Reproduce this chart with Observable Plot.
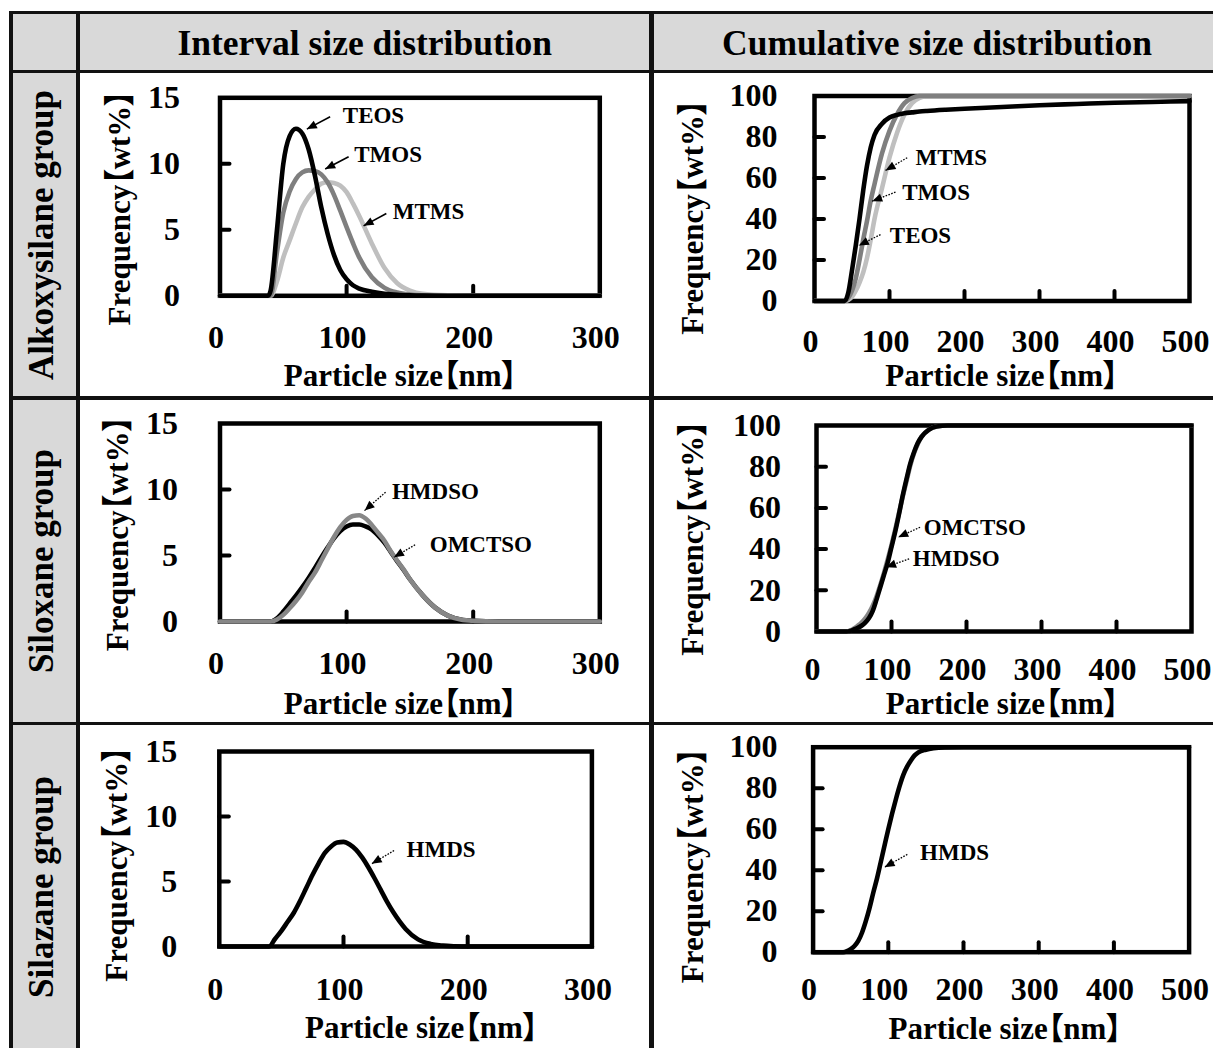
<!DOCTYPE html>
<html><head><meta charset="utf-8">
<script src="https://cdn.jsdelivr.net/npm/d3@7"></script>
<script src="https://cdn.jsdelivr.net/npm/@observablehq/plot@0.6"></script>
<style>
body{margin:0;background:#fff;overflow:hidden;}
#page{position:relative;width:1213px;height:1048px;overflow:hidden;background:#fff;color:#000;
  font-family:"Liberation Serif","Times New Roman","Noto Sans CJK JP",serif;font-weight:bold;font-feature-settings:"palt";}
.cell{position:absolute;background:#d9d9d9;}
.ln{position:absolute;background:#111;}
.hdr{position:absolute;font-size:35.5px;line-height:1;white-space:nowrap;transform:translateX(-50%);}
.rowlab{position:absolute;font-size:35px;line-height:1;white-space:nowrap;transform:translate(-50%,-50%) rotate(-90deg);}
.chart{position:absolute;}
.chart svg{font-family:"Liberation Serif","Times New Roman","Noto Sans CJK JP",serif;font-weight:bold;font-feature-settings:"palt";color:#000;overflow:visible;background:none;}
</style></head>
<body><div id="page"></div>
<script>
// ---------------- table text ----------------
const columnHeaders = ["Interval size distribution", "Cumulative size distribution"];
const rowHeaders = ["Alkoxysilane group", "Siloxane group", "Silazane group"];

// ---------------- axes ----------------
const intervalXTicks = [0, 100, 200, 300];
const intervalYTicks = [0, 5, 10, 15];
const cumulativeXTicks = [0, 100, 200, 300, 400, 500];
const cumulativeYTicks = [0, 20, 40, 60, 80, 100];
const xAxisTitle = "Particle size【nm】";
const yAxisTitle = "Frequency【wt%】";

// ---------------- Alkoxysilane group ----------------
const alkIntSizes = [0,38,40,45,50,55,60,65,70,75,80,85,90,95,100,105,110,120,130,140,150,160,180,200,250,300];
const alkIntTEOS  = [0,0,0.4,5.0,10.0,12.1,12.65,12.3,11.1,9.1,6.7,4.7,3.1,1.95,1.25,0.8,0.55,0.3,0.15,0.07,0.03,0.01,0,0,0,0];
const alkIntTMOS  = [0,0,0,3.3,6.3,7.9,8.85,9.35,9.5,9.45,9.2,8.6,7.65,6.45,5.2,4.0,2.9,1.4,0.6,0.25,0.1,0.04,0,0,0,0];
const alkIntMTMS  = [0,0,0,1.1,2.9,4.2,5.5,6.7,7.5,8.05,8.5,8.6,8.55,8.35,7.85,7.0,6.05,3.95,2.1,0.95,0.4,0.15,0.03,0,0,0];

const alkCumSizes = [0,40,45,50,55,60,65,70,75,80,90,100,110,120,130,140,150,175,200,250,300,350,400,450,500];
const alkCumTEOS  = [0,0,4,15,27,40,54,66,75,81,86.5,89.5,90.8,91.6,92,92.4,92.7,93.3,93.8,94.6,95.5,96.1,96.7,97.1,97.5];
const alkCumTMOS  = [0,0,1.5,5,11,20,30,39,49,57,72,83,91,96.5,99,100,100,100,100,100,100,100,100,100,100];
const alkCumMTMS  = [0,0,0.5,2,5,9,14,21,30,40,55,70,82,91,96.5,99,100,100,100,100,100,100,100,100,100];

// ---------------- Siloxane group ----------------
const silIntSizes  = [0,40,45,50,55,60,65,70,75,80,85,90,95,100,105,110,115,120,125,130,135,140,145,150,160,170,180,190,200,220,300];
const silIntHMDSO  = [0,0,0.15,0.5,1.0,1.55,2.2,3.0,3.7,4.6,5.5,6.4,7.15,7.7,8.0,8.05,7.8,7.3,6.7,6.1,5.3,4.6,3.95,3.2,2.0,1.05,0.45,0.15,0.05,0,0];
const silIntOMCTSO = [0,0,0.25,0.75,1.35,1.95,2.6,3.3,4.05,4.85,5.6,6.3,6.85,7.2,7.35,7.35,7.2,6.95,6.5,5.95,5.25,4.55,3.9,3.2,2.0,1.05,0.45,0.15,0.05,0,0];

const silCumSizes  = [0,40,45,50,55,60,65,70,75,80,85,90,95,100,105,110,115,120,125,130,135,140,150,160,175,200,500];
const silCumHMDSO  = [0,0,0.5,1.5,2.8,4.3,6.3,9,12.5,17,22.5,28.5,35,42,49.5,57.5,65.5,73,80.5,86.5,91,94.5,98,99.5,100,100,100];
const silCumOMCTSO = [0,0,0.3,1,1.8,2.8,4.3,6.5,10,15.5,21.5,27.5,33.5,41,48.5,57,66,74,81.5,87,91.5,94.5,98,99.5,100,100,100];

// ---------------- Silazane group ----------------
const szIntSizes = [0,40,45,50,55,60,65,70,75,80,85,90,95,100,105,110,115,120,125,130,135,140,145,150,160,170,180,190,200,300];
const szIntHMDS  = [0,0,0.6,1.2,1.9,2.6,3.5,4.5,5.5,6.4,7.2,7.7,8.0,8.05,7.85,7.45,6.85,6.1,5.25,4.35,3.45,2.65,1.95,1.35,0.55,0.2,0.07,0.02,0,0];

const szCumSizes = [0,40,45,50,55,60,65,70,75,80,85,90,95,100,105,110,115,120,125,130,135,140,150,160,175,200,500];
const szCumHMDS  = [0,0,0.5,1.5,3,5.5,9.5,15,21.5,29,36,44,52,60,67.5,74.5,81,86.5,90.5,93.5,96,97.5,98.8,99.5,99.9,100,100];

// ---------------- annotations (data units) ----------------
const alkIntNotes = ["TEOS","TMOS","MTMS"];
const alkIntNoteX = [97, 106, 136.5];
const alkIntNoteY = [13.66, 10.73, 6.36];
const alkIntFrom  = [[87,13.56],[101.6,10.53],[131.4,6.23]];
const alkIntTo    = [[68.6,12.63],[83.1,9.6],[113.4,5.3]];

const alkCumNotes = ["MTMS","TMOS","TEOS"];
const alkCumNoteX = [134.7, 117, 100.4];
const alkCumNoteY = [70.1, 53.1, 32.1];
const alkCumFrom  = [[123.6,69.9],[108,53.1],[88,32.4]];
const alkCumTo    = [[94.7,63.7],[76.9,48.7],[59.1,27.1]];

const silIntNotes = ["HMDSO","OMCTSO"];
const silIntNoteX = [135.8, 165.7];
const silIntNoteY = [9.86, 5.82];
const silIntFrom  = [[130.8,9.8],[154.1,5.81]];
const silIntTo    = [[114.2,8.4],[137.4,4.87]];

const silCumNotes = ["OMCTSO","HMDSO"];
const silCumNoteX = [143, 128.4];
const silCumNoteY = [50.6, 35.3];
const silCumFrom  = [[138.1,50.6],[123.5,35.3]];
const silCumTo    = [[108.9,45.8],[92.8,31.2]];

const szIntNotes = ["HMDS"];
const szIntNoteX = [150.8];
const szIntNoteY = [7.45];
const szIntFrom  = [[140.7,7.38]];
const szIntTo    = [[122.7,6.36]];

const szCumNotes = ["HMDS"];
const szCumNoteX = [142.3];
const szCumNoteY = [48.4];
const szCumFrom  = [[125.3,47.7]];
const szCumTo    = [[95.1,41.5]];

// ---------------- table drawing ----------------
const page = document.getElementById("page");
function box(cls, l, t, w, h, txt) {
  const d = document.createElement("div");
  d.className = cls;
  d.style.left = l + "px"; d.style.top = t + "px";
  if (w != null) d.style.width = w + "px";
  if (h != null) d.style.height = h + "px";
  if (txt != null) d.textContent = txt;
  page.appendChild(d);
  return d;
}
// gray cells
box("cell", 11, 12, 1215, 60);
box("cell", 11, 72, 67, 980);
// lines
const LW = 3.5;
box("ln", 9, 10.5, 1215, 3);                 // top
box("ln", 9, 71.7 - LW/2, 1215, LW);         // header bottom
box("ln", 9, 398 - LW/2, 1215, LW);          // row 1 bottom
box("ln", 9, 723.5 - LW/2, 1215, LW);        // row 2 bottom
box("ln", 11 - 1.6, 10.5, 3.2, 1040);        // left
box("ln", 78 - 2.2, 10.5, 4.4, 1040);        // label column
box("ln", 651.5 - 2.2, 10.5, 4.4, 1040);     // column divider

// headers
box("hdr", 364.75, 56 - 0.8375 * 35.5, null, null, columnHeaders[0]);
box("hdr", 937, 56 - 0.8375 * 35.5, null, null, columnHeaders[1]);
const rowCenters = [234.5, 561, 887];
rowHeaders.forEach((t, i) => box("rowlab", 41, rowCenters[i], null, null, t));

// ---------------- charts ----------------
const tickShape = {draw(c, l) { c.moveTo(0, 0); c.lineTo(0, -l); }};
const headShape = {draw(c, l) { c.moveTo(0, 0); c.lineTo(-4.2, l); c.lineTo(4.2, l); c.closePath(); }};

function makeChart(cfg) {
  const [fx0, fx1, fy0, fy1] = cfg.frame;
  const b = cfg.box;
  const marginLeft = fx0 - b.left, marginRight = b.left + b.w - fx1;
  const marginTop = fy0 - b.top, marginBottom = b.top + b.h - fy1;
  const kx = (fx1 - fx0) / (cfg.xDomain[1] - cfg.xDomain[0]);
  const ky = (fy1 - fy0) / (cfg.yDomain[1] - cfg.yDomain[0]);

  const innerX = cfg.xTicks.filter(v => v > cfg.xDomain[0] && v < cfg.xDomain[1]).map(v => ({x: v, y: cfg.yDomain[0]}));
  const innerY = cfg.yTicks.filter(v => v > cfg.yDomain[0] && v < cfg.yDomain[1]).map(v => ({x: cfg.xDomain[0], y: v}));

  const notes = cfg.notes.map((t, i) => ({t, x: cfg.noteX[i], y: cfg.noteY[i]}));
  const arrows = cfg.from.map((f, i) => ({x1: f[0], y1: f[1], x2: cfg.to[i][0], y2: cfg.to[i][1]}));
  const angle = d => {
    const dxs = (d.x2 - d.x1) * kx, dys = -(d.y2 - d.y1) * ky;
    return Math.atan2(dxs, -dys) * 180 / Math.PI;
  };

  const marks = [
    Plot.frame({stroke: "#000", strokeWidth: 4.5}),
    Plot.vector(innerX, {x: "x", y: "y", rotate: 0, length: 10, anchor: "start", shape: tickShape, stroke: "#000", strokeWidth: 4}),
    Plot.vector(innerY, {x: "x", y: "y", rotate: 90, length: 9.5, anchor: "start", shape: tickShape, stroke: "#000", strokeWidth: 4}),
    Plot.axisX(cfg.xTicks, {anchor: "bottom", tickSize: 0, tickPadding: cfg.xTickPad, fontSize: 32, dx: -4, label: null, tickFormat: d => String(d)}),
    Plot.axisY(cfg.yTicks, {anchor: "left", tickSize: 0, tickPadding: cfg.yTickPad, fontSize: 32, label: null, tickFormat: d => String(d)}),
    ...cfg.series.map(s => Plot.line(cfg.sizes.map((x, i) => ({x, y: s.values[i]})),
      {x: "x", y: "y", stroke: s.color, strokeWidth: 4.6, curve: "monotone-x", strokeLinejoin: "round"})),
    Plot.link(arrows, {x1: "x1", y1: "y1", x2: "x2", y2: "y2", stroke: "#000", strokeWidth: cfg.dotted ? 1.3 : 1.6,
      strokeDasharray: cfg.dotted ? "1.6,1.4" : null}),
    Plot.vector(arrows, {x: "x2", y: "y2", rotate: angle, length: 10, anchor: "start", shape: headShape, fill: "#000", stroke: "none"}),
    Plot.text(notes, {x: "x", y: "y", text: "t", fontSize: 23, textAnchor: "start", lineAnchor: "middle", fill: "#000"}),
    Plot.text([yAxisTitle], {text: d => d, frameAnchor: "left", textAnchor: "middle", rotate: -90, dx: cfg.yLab[0], dy: cfg.yLab[1], fontSize: 31, lineAnchor: "middle", fill: "#000"}),
    Plot.text([xAxisTitle], {text: d => d, frameAnchor: "bottom", textAnchor: "middle", dx: cfg.xLab[0], dy: cfg.xLab[1], fontSize: 31, lineAnchor: "middle", fill: "#000"})
  ];

  const svg = Plot.plot({
    width: b.w, height: b.h, marginLeft, marginRight, marginTop, marginBottom,
    x: {domain: cfg.xDomain, label: null},
    y: {domain: cfg.yDomain, label: null},
    marks
  });
  const holder = document.createElement("div");
  holder.className = "chart";
  holder.style.left = b.left + "px"; holder.style.top = b.top + "px";
  holder.appendChild(svg);
  page.appendChild(holder);
}

const BLACK = "#000", DARK = "#7f7f7f", LIGHT = "#bfbfbf", MID = "#878787";

makeChart({
  box: {left: 80, top: 74, w: 570, h: 322}, frame: [219.5, 599.3, 97.3, 295.3],
  xDomain: [0, 300], yDomain: [0, 15], xTicks: intervalXTicks, yTicks: intervalYTicks,
  xTickPad: 29, yTickPad: 40, yLab: [-99.5, 11], xLab: [-9.4, 80.7],
  sizes: alkIntSizes,
  series: [{values: alkIntMTMS, color: LIGHT}, {values: alkIntTMOS, color: DARK}, {values: alkIntTEOS, color: BLACK}],
  notes: alkIntNotes, noteX: alkIntNoteX, noteY: alkIntNoteY, from: alkIntFrom, to: alkIntTo, dotted: false
});
makeChart({
  box: {left: 654, top: 74, w: 559, h: 322}, frame: [814, 1189, 95.5, 300.5],
  xDomain: [0, 500], yDomain: [0, 100], xTicks: cumulativeXTicks, yTicks: cumulativeYTicks,
  xTickPad: 28, yTickPad: 37, yLab: [-121, 18.7], xLab: [0, 75.5],
  sizes: alkCumSizes,
  series: [{values: alkCumMTMS, color: LIGHT}, {values: alkCumTMOS, color: DARK}, {values: alkCumTEOS, color: BLACK}],
  notes: alkCumNotes, noteX: alkCumNoteX, noteY: alkCumNoteY, from: alkCumFrom, to: alkCumTo, dotted: true
});
makeChart({
  box: {left: 80, top: 400, w: 570, h: 322}, frame: [219.5, 599.3, 423, 621],
  xDomain: [0, 300], yDomain: [0, 15], xTicks: intervalXTicks, yTicks: intervalYTicks,
  xTickPad: 30, yTickPad: 42, yLab: [-102, 11], xLab: [-9.4, 83],
  sizes: silIntSizes,
  series: [{values: silIntOMCTSO, color: BLACK}, {values: silIntHMDSO, color: MID}],
  notes: silIntNotes, noteX: silIntNoteX, noteY: silIntNoteY, from: silIntFrom, to: silIntTo, dotted: true
});
makeChart({
  box: {left: 654, top: 400, w: 559, h: 322}, frame: [816, 1191, 425, 631],
  xDomain: [0, 500], yDomain: [0, 100], xTicks: cumulativeXTicks, yTicks: cumulativeYTicks,
  xTickPad: 26, yTickPad: 35.5, yLab: [-123, 9.5], xLab: [-1.5, 73],
  sizes: silCumSizes,
  series: [{values: silCumHMDSO, color: MID}, {values: silCumOMCTSO, color: BLACK}],
  notes: silCumNotes, noteX: silCumNoteX, noteY: silCumNoteY, from: silCumFrom, to: silCumTo, dotted: true
});
makeChart({
  box: {left: 80, top: 726, w: 570, h: 322}, frame: [218.8, 591.4, 751, 946],
  xDomain: [0, 300], yDomain: [0, 15], xTicks: intervalXTicks, yTicks: intervalYTicks,
  xTickPad: 31, yTickPad: 42, yLab: [-102, 15], xLab: [16, 81.5],
  sizes: szIntSizes,
  series: [{values: szIntHMDS, color: BLACK}],
  notes: szIntNotes, noteX: szIntNoteX, noteY: szIntNoteY, from: szIntFrom, to: szIntTo, dotted: true
});
makeChart({
  box: {left: 654, top: 726, w: 559, h: 322}, frame: [812.6, 1188.6, 746.7, 951.7],
  xDomain: [0, 500], yDomain: [0, 100], xTicks: cumulativeXTicks, yTicks: cumulativeYTicks,
  xTickPad: 25.5, yTickPad: 35.5, yLab: [-119.6, 15.8], xLab: [4, 77.3],
  sizes: szCumSizes,
  series: [{values: szCumHMDS, color: BLACK}],
  notes: szCumNotes, noteX: szCumNoteX, noteY: szCumNoteY, from: szCumFrom, to: szCumTo, dotted: true
});
</script>
</body></html>
